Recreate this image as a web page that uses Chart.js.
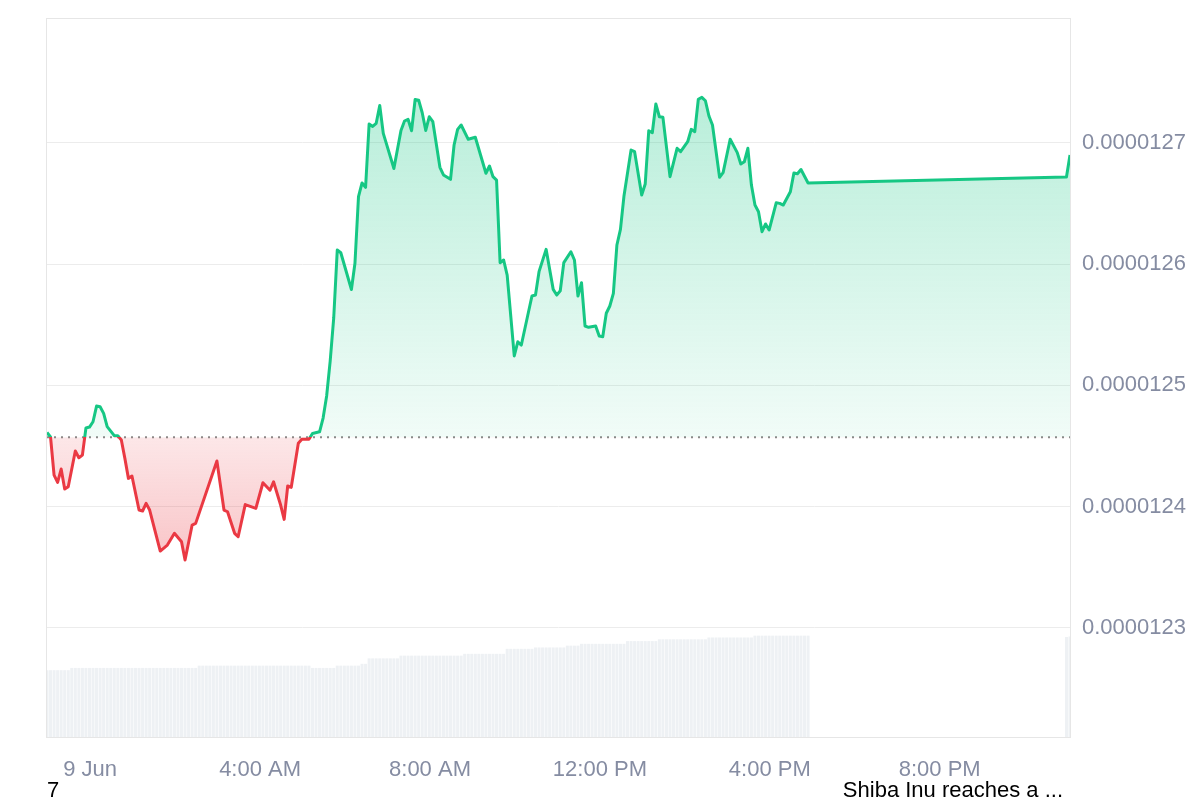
<!DOCTYPE html>
<html>
<head>
<meta charset="utf-8">
<script src="https://cdn.jsdelivr.net/npm/chart.js@4/dist/chart.umd.min.js"></script>
<style>
  html, body { margin: 0; padding: 0; background: #fff; }
  canvas { display: block; }
</style>
</head>
<body>
<canvas id="myChart" width="1200" height="800"></canvas>
<script>
// Price data (minutes from 00:00, 9 Jun)
const priceTimes = [
  -61, -56, -51, -46, -41, -36, -31, -21, -16, -11, -6, -1, 4, 9, 14, 19, 24, 34, 39, 44,
  49, 54, 59, 69, 74, 79, 84, 99, 109, 119, 129, 134, 144, 149, 179, 189, 194, 204, 209, 219,
  234, 244, 254, 259, 269, 274, 279, 284, 294, 299, 309, 314, 324, 329, 334, 339, 344, 349, 354, 369,
  374, 379, 384, 389, 394, 399, 404, 409, 414, 429, 439, 444, 449, 454, 459, 464, 469, 474, 479, 484,
  494, 499, 509, 514, 519, 524, 534, 544, 559, 564, 569, 574, 579, 584, 589, 599, 604, 609, 624, 629,
  634, 644, 654, 659, 664, 669, 679, 684, 689, 694, 699, 704, 714, 719, 724, 729, 734, 739, 744, 749,
  754, 764, 769, 779, 784, 789, 794, 799, 804, 809, 819, 829, 834, 844, 849, 854, 859, 864, 869, 874,
  879, 889, 894, 904, 914, 919, 924, 929, 934, 939, 944, 949, 954, 959, 969, 974, 979, 989, 994, 999,
  1004, 1014, 1379, 1384
];
const priceValues = [
  0.0000124611, 0.0000124574, 0.0000124260, 0.0000124200, 0.0000124310, 0.0000124145, 0.0000124164, 0.0000124458, 0.0000124403, 0.0000124425,
  0.0000124648, 0.0000124656, 0.0000124700, 0.0000124829, 0.0000124824, 0.0000124769, 0.0000124659, 0.0000124585, 0.0000124585, 0.0000124549,
  0.0000124398, 0.0000124233, 0.0000124252, 0.0000123972, 0.0000123964, 0.0000124027, 0.0000123972, 0.0000123634, 0.0000123683, 0.0000123780,
  0.0000123711, 0.0000123560, 0.0000123848, 0.0000123862, 0.0000124376, 0.0000123972, 0.0000123958, 0.0000123780, 0.0000123752, 0.0000124017,
  0.0000123986, 0.0000124197, 0.0000124135, 0.0000124205, 0.0000124013, 0.0000123895, 0.0000124170, 0.0000124159, 0.0000124522, 0.0000124555,
  0.0000124555, 0.0000124603, 0.0000124617, 0.0000124730, 0.0000124912, 0.0000125200, 0.0000125555, 0.0000126115, 0.0000126093, 0.0000125790,
  0.0000126006, 0.0000126555, 0.0000126668, 0.0000126632, 0.0000127154, 0.0000127134, 0.0000127160, 0.0000127307, 0.0000127077, 0.0000126787,
  0.0000127101, 0.0000127179, 0.0000127193, 0.0000127099, 0.0000127356, 0.0000127350, 0.0000127247, 0.0000127101, 0.0000127214, 0.0000127173,
  0.0000126797, 0.0000126734, 0.0000126698, 0.0000126981, 0.0000127110, 0.0000127146, 0.0000127028, 0.0000127045, 0.0000126748, 0.0000126808,
  0.0000126720, 0.0000126692, 0.0000126011, 0.0000126033, 0.0000125909, 0.0000125242, 0.0000125359, 0.0000125332, 0.0000125736, 0.0000125744,
  0.0000125937, 0.0000126121, 0.0000125791, 0.0000125744, 0.0000125780, 0.0000126011, 0.0000126101, 0.0000126033, 0.0000125736, 0.0000125846,
  0.0000125489, 0.0000125478, 0.0000125489, 0.0000125406, 0.0000125401, 0.0000125594, 0.0000125654, 0.0000125758, 0.0000126157, 0.0000126286,
  0.0000126561, 0.0000126940, 0.0000126926, 0.0000126569, 0.0000126660, 0.0000127099, 0.0000127082, 0.0000127319, 0.0000127214, 0.0000127209,
  0.0000126720, 0.0000126954, 0.0000126926, 0.0000127008, 0.0000127110, 0.0000127091, 0.0000127358, 0.0000127374, 0.0000127346, 0.0000127220,
  0.0000127146, 0.0000126715, 0.0000126753, 0.0000127028, 0.0000126918, 0.0000126824, 0.0000126843, 0.0000126954, 0.0000126651, 0.0000126486,
  0.0000126431, 0.0000126266, 0.0000126330, 0.0000126280, 0.0000126505, 0.0000126500, 0.0000126486, 0.0000126596, 0.0000126750, 0.0000126744,
  0.0000126779, 0.0000126668, 0.0000126717, 0.0000126899
];
const openPrice = 0.0000124571; // dotted reference line

// Volume bars, one per 5 minute slot starting at 22:59 (8 Jun)
const volStart = -61;
const volStep = 5;
const volValues = [
  147, 147, 147, 147, 147, 147, 147,
  152, 152, 152, 152, 152, 152, 152, 152, 152, 152, 152, 152, 152, 152, 152, 152, 152, 152,
  152, 152, 152, 152, 152, 152, 152, 152, 152, 152, 152, 152, 152, 152, 152, 152, 152, 152,
  157, 157, 157, 157, 157, 157, 157, 157, 157, 157, 157, 157, 157, 157, 157, 157,
  157, 157, 157, 157, 157, 157, 157, 157, 157, 157, 157, 157, 157, 157, 157, 157,
  152, 152, 152, 152, 152, 152, 152,
  157, 157, 157, 157, 157, 157, 157,
  161, 161,
  173, 173, 173, 173, 173, 173, 173, 173, 173,
  179, 179, 179, 179, 179, 179, 179, 179, 179, 179, 179, 179, 179, 179, 179, 179, 179, 179,
  183, 183, 183, 183, 183, 183, 183, 183, 183, 183, 183, 183,
  194, 194, 194, 194, 194, 194, 194, 194,
  197, 197, 197, 197, 197, 197, 197, 197, 197,
  201, 201, 201, 201,
  205, 205, 205, 205, 205, 205, 205, 205, 205, 205, 205, 205, 205,
  211, 211, 211, 211, 211, 211, 211, 211, 211,
  215, 215, 215, 215, 215, 215, 215, 215, 215, 215, 215, 215, 215, 215,
  219, 219, 219, 219, 219, 219, 219, 219, 219, 219, 219, 219, 219,
  223, 223, 223, 223, 223, 223, 223, 223, 223, 223, 223, 223, 223, 223, 223, 223
];
const volLateTimes = [1379, 1384];
const volLateValues = [220, 221];

// Axis ticks
const xTickTimes = [0, 240, 480, 720, 960, 1200];
const xTickLabels = ["9 Jun", "4:00 AM", "8:00 AM", "12:00 PM", "4:00 PM", "8:00 PM"];
const yTickValues = [0.0000123, 0.0000124, 0.0000125, 0.0000126, 0.0000127];

// News labels under the axis
const newsLabels = ["7", "Shiba Inu reaches a ..."];

const green = "#16c784";
const red = "#ea3943";
const labelGrey = "#858ca2";

Chart.defaults.font.family = "'Liberation Sans', Arial, sans-serif";

function lineGradient(chart) {
  const { ctx, chartArea, scales } = chart;
  if (!chartArea) return green;
  const baseY = scales.y.getPixelForValue(openPrice);
  const f = Math.min(Math.max((baseY - chartArea.top) / (chartArea.bottom - chartArea.top), 0), 1);
  const g = ctx.createLinearGradient(0, chartArea.top, 0, chartArea.bottom);
  g.addColorStop(0, green);
  g.addColorStop(f, green);
  g.addColorStop(f, red);
  g.addColorStop(1, red);
  return g;
}

function greenFill(chart) {
  const { ctx, chartArea, scales } = chart;
  if (!chartArea) return "rgba(22,199,132,0.2)";
  const baseY = scales.y.getPixelForValue(openPrice);
  const g = ctx.createLinearGradient(0, chartArea.top + 80, 0, baseY);
  g.addColorStop(0, "rgba(22,199,132,0.30)");
  g.addColorStop(1, "rgba(22,199,132,0.06)");
  return g;
}

function redFill(chart) {
  const { ctx, chartArea, scales } = chart;
  if (!chartArea) return "rgba(234,57,67,0.2)";
  const baseY = scales.y.getPixelForValue(openPrice);
  const g = ctx.createLinearGradient(0, baseY, 0, baseY + 125);
  g.addColorStop(0, "rgba(234,57,67,0.12)");
  g.addColorStop(1, "rgba(234,57,67,0.30)");
  return g;
}

// plot frame and the news text line
const framePlugin = {
  id: "frame",
  beforeDatasetsDraw(chart) {
    const { ctx, chartArea } = chart;
    ctx.save();
    ctx.strokeStyle = "#e6e6e6";
    ctx.lineWidth = 1;
    ctx.strokeRect(chartArea.left - 0.5, chartArea.top + 0.5, chartArea.right - chartArea.left + 1, chartArea.bottom - chartArea.top);
    ctx.restore();
  },
  afterDraw(chart) {
    const { ctx, chartArea } = chart;
    ctx.save();
    ctx.font = "22px 'Liberation Sans', Arial, sans-serif";
    ctx.fillStyle = "#000";
    ctx.textBaseline = "alphabetic";
    ctx.textAlign = "left";
    ctx.fillText(newsLabels[0], chartArea.left, 797);
    ctx.textAlign = "right";
    ctx.fillText(newsLabels[1], chartArea.right - 7, 797);
    ctx.restore();
  }
};

const priceData = priceTimes.map((t, i) => ({ x: t, y: priceValues[i] }));
const volData = volValues.map((v, i) => ({ x: volStart + i * volStep, y: v }))
  .concat(volLateTimes.map((t, i) => ({ x: t, y: volLateValues[i] })));

const config = {
  data: {
    datasets: [
      {
        type: "line",
        data: priceData,
        order: 0,
        borderWidth: 3,
        borderJoinStyle: "round",
        borderColor: (c) => lineGradient(c.chart),
        pointRadius: 0,
        tension: 0,
        yAxisID: "y",
        fill: {
          target: { value: openPrice },
          above: (c) => greenFill(c.chart),
          below: (c) => redFill(c.chart)
        }
      },
      {
        type: "line",
        data: [{ x: priceTimes[0], y: openPrice }, { x: priceTimes[priceTimes.length - 1], y: openPrice }],
        order: 1,
        borderColor: "#8a8a8a",
        borderWidth: 2,
        borderDash: [2, 5],
        pointRadius: 0,
        fill: false,
        yAxisID: "y"
      },
      {
        type: "bar",
        data: volData,
        order: 2,
        backgroundColor: "#eef1f4",
        barPercentage: 0.85,
        categoryPercentage: 1,
        yAxisID: "y2"
      }
    ]
  },
  options: {
    responsive: false,
    animation: false,
    layout: { padding: { left: 47, top: 18, right: 0, bottom: 0 } },
    plugins: {
      legend: { display: false },
      tooltip: { enabled: false }
    },
    scales: {
      x: {
        type: "linear",
        offset: false,
        min: -61,
        max: 1384,
        grid: { display: false },
        border: { display: false },
        afterBuildTicks: (s) => { s.ticks = xTickTimes.map(v => ({ value: v })); },
        afterFit: (s) => { s.height = 63; s.paddingLeft = 0; s.paddingRight = 0; },
        ticks: {
          autoSkip: false,
          maxRotation: 0,
          padding: 12,
          color: labelGrey,
          font: { size: 22 },
          callback: (v, i) => xTickLabels[i]
        }
      },
      y: {
        position: "right",
        min: 0.0000122101,
        max: 0.0000128028,
        grid: { color: "#ececec", drawTicks: false },
        border: { display: false },
        afterBuildTicks: (s) => { s.ticks = yTickValues.map(v => ({ value: v })); },
        afterFit: (s) => { s.width = 130; s.paddingTop = 0; s.paddingBottom = 0; },
        ticks: {
          padding: 12,
          color: labelGrey,
          font: { size: 22 },
          callback: (v) => Number(v).toFixed(7)
        }
      },
      y2: {
        display: false,
        min: 0,
        max: 1582
      }
    }
  },
  plugins: [framePlugin]
};

const myChart = new Chart(document.getElementById("myChart"), config);
</script>
</body>
</html>
